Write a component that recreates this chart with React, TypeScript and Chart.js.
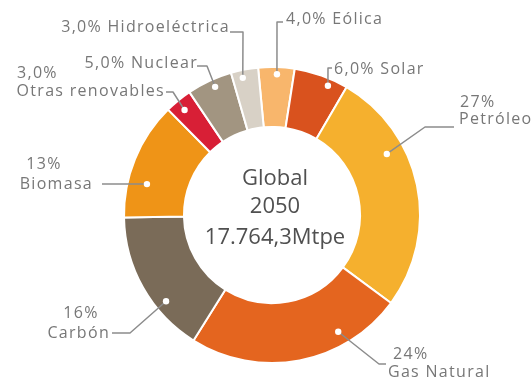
import React, { useEffect, useRef } from 'react';
import { Chart, registerables } from 'chart.js';

Chart.register(...registerables);

// ---- data ----
const categories = ['Eólica', 'Solar', 'Petróleo', 'Gas Natural', 'Carbón', 'Biomasa', 'Otras renovables', 'Nuclear', 'Hidroeléctrica'];
const shares = [4.0, 6.0, 27, 24, 16, 13, 3.0, 5.0, 3.0];
const shareLabels = ['4,0%', '6,0%', '27%', '24%', '16%', '13%', '3,0%', '5,0%', '3,0%'];
const centerLines = ['Global', '2050', '17.764,3Mtpe'];

// ---- styles ----
const colors = ['#F8B66C', '#D9521E', '#F5B02E', '#E4651F', '#7A6B58', '#EF9417', '#D81F36', '#A29581', '#D8D1C6'];
const LABEL_FONT = '16px "Open Sans", sans-serif';
const CENTER_FONT = '22px "Open Sans", sans-serif';
const LABEL_COLOR = '#777777';
const LINE_COLOR = '#8c8c8c';

// ---- annotation layout (dot position inside slice as [angle fraction, radial fraction], leader path, label lines) ----
type Line = { kind: 'pct' | 'name' | 'both'; x: number; y: number; align: CanvasTextAlign };
type Layout = { dot: [number, number]; path: [number, number][]; lines: Line[] };
const layouts: Layout[] = [
  { dot: [0.52, 0.88], path: [[277, 22], [283, 22]], lines: [{ kind: 'both', x: 286, y: 19, align: 'left' }] },
  { dot: [0.68, 0.88], path: [[328, 68], [332, 68]], lines: [{ kind: 'both', x: 334, y: 69, align: 'left' }] },
  { dot: [0.33, 0.7], path: [[425, 127], [454, 127]], lines: [{ kind: 'pct', x: 460, y: 102, align: 'left' }, { kind: 'name', x: 459, y: 119, align: 'left' }] },
  { dot: [0.28, 0.77], path: [[379, 364], [386, 364]], lines: [{ kind: 'pct', x: 393, y: 354, align: 'left' }, { kind: 'name', x: 388, y: 372, align: 'left' }] },
  { dot: [0.33, 0.81], path: [[130, 333], [112, 333]], lines: [{ kind: 'pct', x: 81, y: 313, align: 'center' }, { kind: 'name', x: 110, y: 333, align: 'right' }] },
  { dot: [0.32, 0.68], path: [[102, 184]], lines: [{ kind: 'pct', x: 44, y: 164, align: 'center' }, { kind: 'name', x: 93, y: 184, align: 'right' }] },
  { dot: [0.45, 0.81], path: [[173, 92], [166, 92]], lines: [{ kind: 'pct', x: 17, y: 73, align: 'left' }, { kind: 'name', x: 165, y: 91, align: 'right' }] },
  { dot: [0.56, 0.87], path: [[207, 66], [197, 66]], lines: [{ kind: 'both', x: 198, y: 63, align: 'right' }] },
  { dot: [0.38, 0.87], path: [[243, 32], [230, 32]], lines: [{ kind: 'both', x: 230, y: 27, align: 'right' }] },
];

const calloutPlugin = {
  id: 'callouts',
  afterDraw(chart: any) {
    const ctx: any = chart.ctx;
    const meta = chart.getDatasetMeta(0);
    ctx.save();
    meta.data.forEach((arc: any, i: number) => {
      const p = arc.getProps(['x', 'y', 'startAngle', 'endAngle', 'innerRadius', 'outerRadius'], true);
      const lay = layouts[i];
      const a = p.startAngle + lay.dot[0] * (p.endAngle - p.startAngle);
      const r = p.innerRadius + lay.dot[1] * (p.outerRadius - p.innerRadius);
      const dx = p.x + Math.cos(a) * r;
      const dy = p.y + Math.sin(a) * r;
      // leader
      ctx.beginPath();
      ctx.strokeStyle = LINE_COLOR;
      ctx.lineWidth = 1.5;
      ctx.lineJoin = 'round';
      ctx.moveTo(dx, dy);
      lay.path.forEach(([px, py]) => ctx.lineTo(px, py));
      ctx.stroke();
      // dot
      ctx.beginPath();
      ctx.fillStyle = '#ffffff';
      ctx.arc(dx, dy, 3.2, 0, Math.PI * 2);
      ctx.fill();
      // label
      ctx.font = LABEL_FONT;
      ctx.letterSpacing = '1.3px';
      ctx.fillStyle = LABEL_COLOR;
      ctx.textBaseline = 'middle';
      lay.lines.forEach((ln) => {
        const txt = ln.kind === 'pct' ? shareLabels[i] : ln.kind === 'name' ? categories[i] : `${shareLabels[i]} ${categories[i]}`;
        ctx.textAlign = ln.align;
        ctx.fillText(txt, ln.x, ln.y);
      });
    });
    // center text
    const c = meta.data[0].getProps(['x', 'y'], true);
    ctx.font = CENTER_FONT;
    ctx.letterSpacing = '0px';
    ctx.fillStyle = '#505050';
    ctx.textAlign = 'center';
    ctx.textBaseline = 'middle';
    const offsets = [-36, -8, 23];
    centerLines.forEach((t, k) => ctx.fillText(t, c.x + 3, c.y + offsets[k]));
    ctx.restore();
  },
};

export default function App() {
  const ref = useRef<HTMLCanvasElement>(null);
  useEffect(() => {
    if (!ref.current) return;
    const chart = new Chart(ref.current, {
      type: 'doughnut',
      data: {
        labels: categories,
        datasets: [
          {
            data: shares,
            backgroundColor: colors,
            borderColor: '#ffffff',
            borderWidth: 2,
          },
        ],
      },
      options: {
        responsive: false,
        animation: false,
        devicePixelRatio: 1,
        cutout: '59.5%',
        rotation: -5.4,
        layout: { padding: { left: 123, top: 66, right: 110, bottom: 13 } },
        plugins: { legend: { display: false }, tooltip: { enabled: false } },
      },
      plugins: [calloutPlugin],
    });
    return () => chart.destroy();
  }, []);
  return (
    <div style={{ position: 'fixed', left: 0, top: 0, width: 531, height: 377, background: '#fff' }}>
      <canvas ref={ref} width={531} height={377} style={{ width: 531, height: 377 }} />
    </div>
  );
}
